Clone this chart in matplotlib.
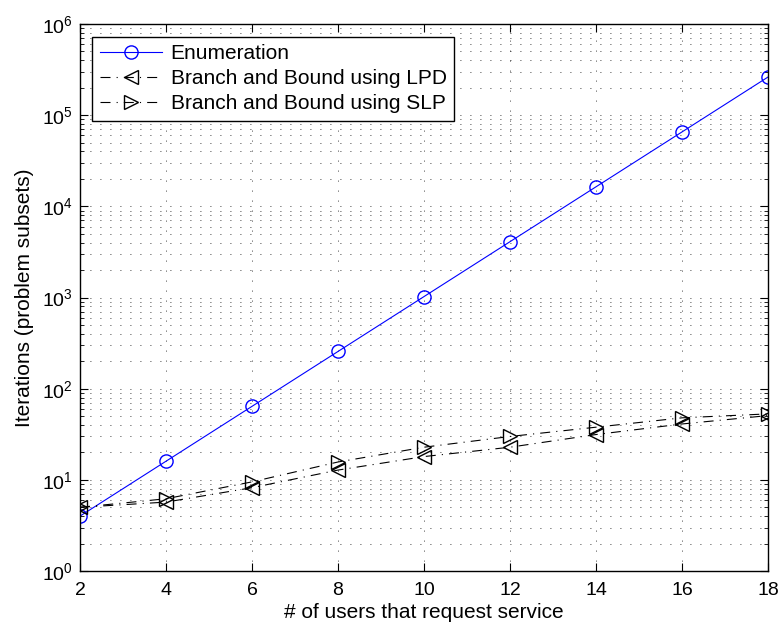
import numpy as np
import matplotlib.pyplot as plt
from matplotlib.ticker import FixedLocator, NullFormatter, LogFormatterSciNotation

# 数据
users = [2, 4, 6, 8, 10, 12, 14, 16, 18]
enum_iters = [4, 16, 64, 256, 1024, 4096, 16384, 65536, 262144]
lpd_iters = [5.0, 5.7, 8.2, 12.8, 18.0, 22.8, 31.4, 41.0, 50.7]
slp_iters = [5.0, 6.2, 9.5, 15.7, 22.8, 29.9, 37.8, 47.9, 52.9]

plt.rcParams['font.family'] = ['Liberation Sans', 'DejaVu Sans']
plt.rcParams['mathtext.fontset'] = 'custom'
plt.rcParams['mathtext.rm'] = 'Liberation Sans'
plt.rcParams['mathtext.it'] = 'Liberation Sans:italic'

fig = plt.figure(figsize=(7.82, 6.29), dpi=100)
ax = fig.add_axes([0.1023, 0.0922, 0.8798, 0.8696])

dashdot = (0, (9, 5.5, 1, 5.5))
ax.semilogy(users, enum_iters, '-', color='blue', marker='o', markersize=9.5,
            markerfacecolor='none', markeredgecolor='blue', linewidth=0.8,
            label='Enumeration')
ax.semilogy(users, lpd_iters, linestyle=dashdot, color='black', marker='<',
            markersize=10, markerfacecolor='none', linewidth=0.8,
            label='Branch and Bound using LPD')
ax.semilogy(users, slp_iters, linestyle=dashdot, color='black', marker='>',
            markersize=10, markerfacecolor='none', linewidth=0.8,
            label='Branch and Bound using SLP')

ax.set_xlim(2, 18)
ax.set_ylim(1, 1e6)
ax.set_xticks(users)
decades = [10.0 ** k for k in range(7)]
minor = [m * 10.0 ** k for k in range(6) for m in range(2, 10)]
ax.yaxis.set_major_locator(FixedLocator(decades))
ax.yaxis.set_major_formatter(LogFormatterSciNotation())
ax.yaxis.set_minor_locator(FixedLocator(minor))
ax.yaxis.set_minor_formatter(NullFormatter())

gridstyle = dict(linestyle=(0, (1, 11)), color='black', linewidth=0.6)
ax.grid(True, which='major', **gridstyle)
ax.grid(True, which='minor', axis='y', **gridstyle)

ax.tick_params(which='both', direction='in', top=True, right=True, labelsize=14)
ax.tick_params(which='major', length=6)
ax.tick_params(which='minor', length=3)
ax.tick_params(axis='x', pad=8)
ax.tick_params(axis='y', pad=5)
for s in ax.spines.values():
    s.set_linewidth(1.0)

ax.set_xlabel('# of users that request service', fontsize=15, labelpad=3)
ax.set_ylabel('Iterations (problem subsets)', fontsize=15, labelpad=6)

leg = ax.legend(loc='upper left', fontsize=15, fancybox=False, framealpha=1,
                edgecolor='black', handlelength=3.0, handletextpad=0.4,
                labelspacing=0.3, borderaxespad=0.6, borderpad=0.35)
leg.get_frame().set_linewidth(1.0)

fig.savefig('out.png', dpi=100)
